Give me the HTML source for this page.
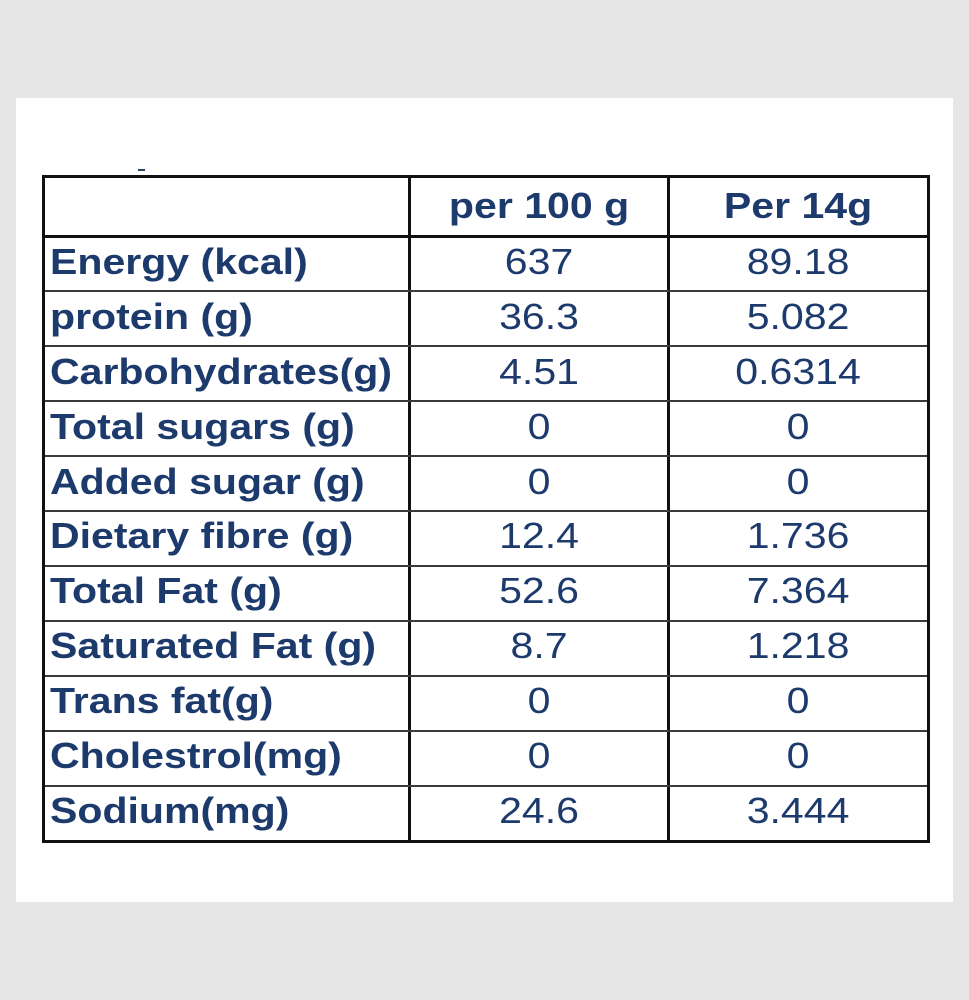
<!DOCTYPE html>
<html>
<head>
<meta charset="utf-8">
<style>
  html,body{margin:0;padding:0;}
  body{width:969px;height:1000px;background:#e6e6e6;position:relative;overflow:hidden;
       font-family:"Liberation Sans",Arial,sans-serif;}
  .panel{position:absolute;left:16px;top:98px;width:937px;height:804px;background:#fff;}
  .ln{position:absolute;background:#111;}
  .hl{position:absolute;left:45px;width:882px;height:2px;background:#3a3a3a;}
  .t{position:absolute;height:40px;line-height:40px;font-size:36px;color:#1d3a6c;white-space:nowrap;}
  .lab{left:50px;font-weight:bold;}
  .lab span{display:inline-block;transform:scaleX(1.14);transform-origin:left center;}
  .c2{left:411px;width:256px;text-align:center;}
  .c3{left:670px;width:257px;text-align:center;}
  .c2 span,.c3 span{display:inline-block;transform:scaleX(1.14);transform-origin:center center;}
  .b{font-weight:bold;}
</style>
</head>
<body>
<div class="panel"></div>
<div style="position:absolute;left:138px;top:169px;width:7px;height:2px;background:#2a3f6a;"></div>

<!-- outer border -->
<div class="ln" style="left:42px;top:175px;width:888px;height:3px;"></div>
<div class="ln" style="left:42px;top:840px;width:888px;height:3px;"></div>
<div class="ln" style="left:42px;top:175px;width:3px;height:668px;"></div>
<div class="ln" style="left:927px;top:175px;width:3px;height:668px;"></div>
<!-- column lines -->
<div class="ln" style="left:408px;top:175px;width:3px;height:668px;"></div>
<div class="ln" style="left:667px;top:175px;width:3px;height:668px;"></div>
<!-- header line -->
<div class="ln" style="left:42px;top:235px;width:888px;height:3px;"></div>
<!-- body lines -->
<div class="hl" style="top:290px;"></div>
<div class="hl" style="top:345px;"></div>
<div class="hl" style="top:400px;"></div>
<div class="hl" style="top:455px;"></div>
<div class="hl" style="top:510px;"></div>
<div class="hl" style="top:565px;"></div>
<div class="hl" style="top:620px;"></div>
<div class="hl" style="top:675px;"></div>
<div class="hl" style="top:730px;"></div>
<div class="hl" style="top:785px;"></div>

<!-- header -->
<div class="t c2 b" style="top:186px;"><span>per 100 g</span></div>
<div class="t c3 b" style="top:186px;"><span>Per 14g</span></div>

<!-- rows -->
<div class="t lab" style="top:242px;"><span>Energy (kcal)</span></div>
<div class="t c2" style="top:242px;"><span>637</span></div>
<div class="t c3" style="top:242px;"><span>89.18</span></div>

<div class="t lab" style="top:297px;"><span>protein (g)</span></div>
<div class="t c2" style="top:297px;"><span>36.3</span></div>
<div class="t c3" style="top:297px;"><span>5.082</span></div>

<div class="t lab" style="top:352px;"><span>Carbohydrates(g)</span></div>
<div class="t c2" style="top:352px;"><span>4.51</span></div>
<div class="t c3" style="top:352px;"><span>0.6314</span></div>

<div class="t lab" style="top:407px;"><span>Total sugars (g)</span></div>
<div class="t c2" style="top:407px;"><span>0</span></div>
<div class="t c3" style="top:407px;"><span>0</span></div>

<div class="t lab" style="top:462px;"><span>Added sugar (g)</span></div>
<div class="t c2" style="top:462px;"><span>0</span></div>
<div class="t c3" style="top:462px;"><span>0</span></div>

<div class="t lab" style="top:516px;"><span>Dietary fibre (g)</span></div>
<div class="t c2" style="top:516px;"><span>12.4</span></div>
<div class="t c3" style="top:516px;"><span>1.736</span></div>

<div class="t lab" style="top:571px;"><span>Total Fat (g)</span></div>
<div class="t c2" style="top:571px;"><span>52.6</span></div>
<div class="t c3" style="top:571px;"><span>7.364</span></div>

<div class="t lab" style="top:626px;"><span>Saturated Fat (g)</span></div>
<div class="t c2" style="top:626px;"><span>8.7</span></div>
<div class="t c3" style="top:626px;"><span>1.218</span></div>

<div class="t lab" style="top:681px;"><span>Trans fat(g)</span></div>
<div class="t c2" style="top:681px;"><span>0</span></div>
<div class="t c3" style="top:681px;"><span>0</span></div>

<div class="t lab" style="top:736px;"><span>Cholestrol(mg)</span></div>
<div class="t c2" style="top:736px;"><span>0</span></div>
<div class="t c3" style="top:736px;"><span>0</span></div>

<div class="t lab" style="top:791px;"><span>Sodium(mg)</span></div>
<div class="t c2" style="top:791px;"><span>24.6</span></div>
<div class="t c3" style="top:791px;"><span>3.444</span></div>
</body>
</html>
